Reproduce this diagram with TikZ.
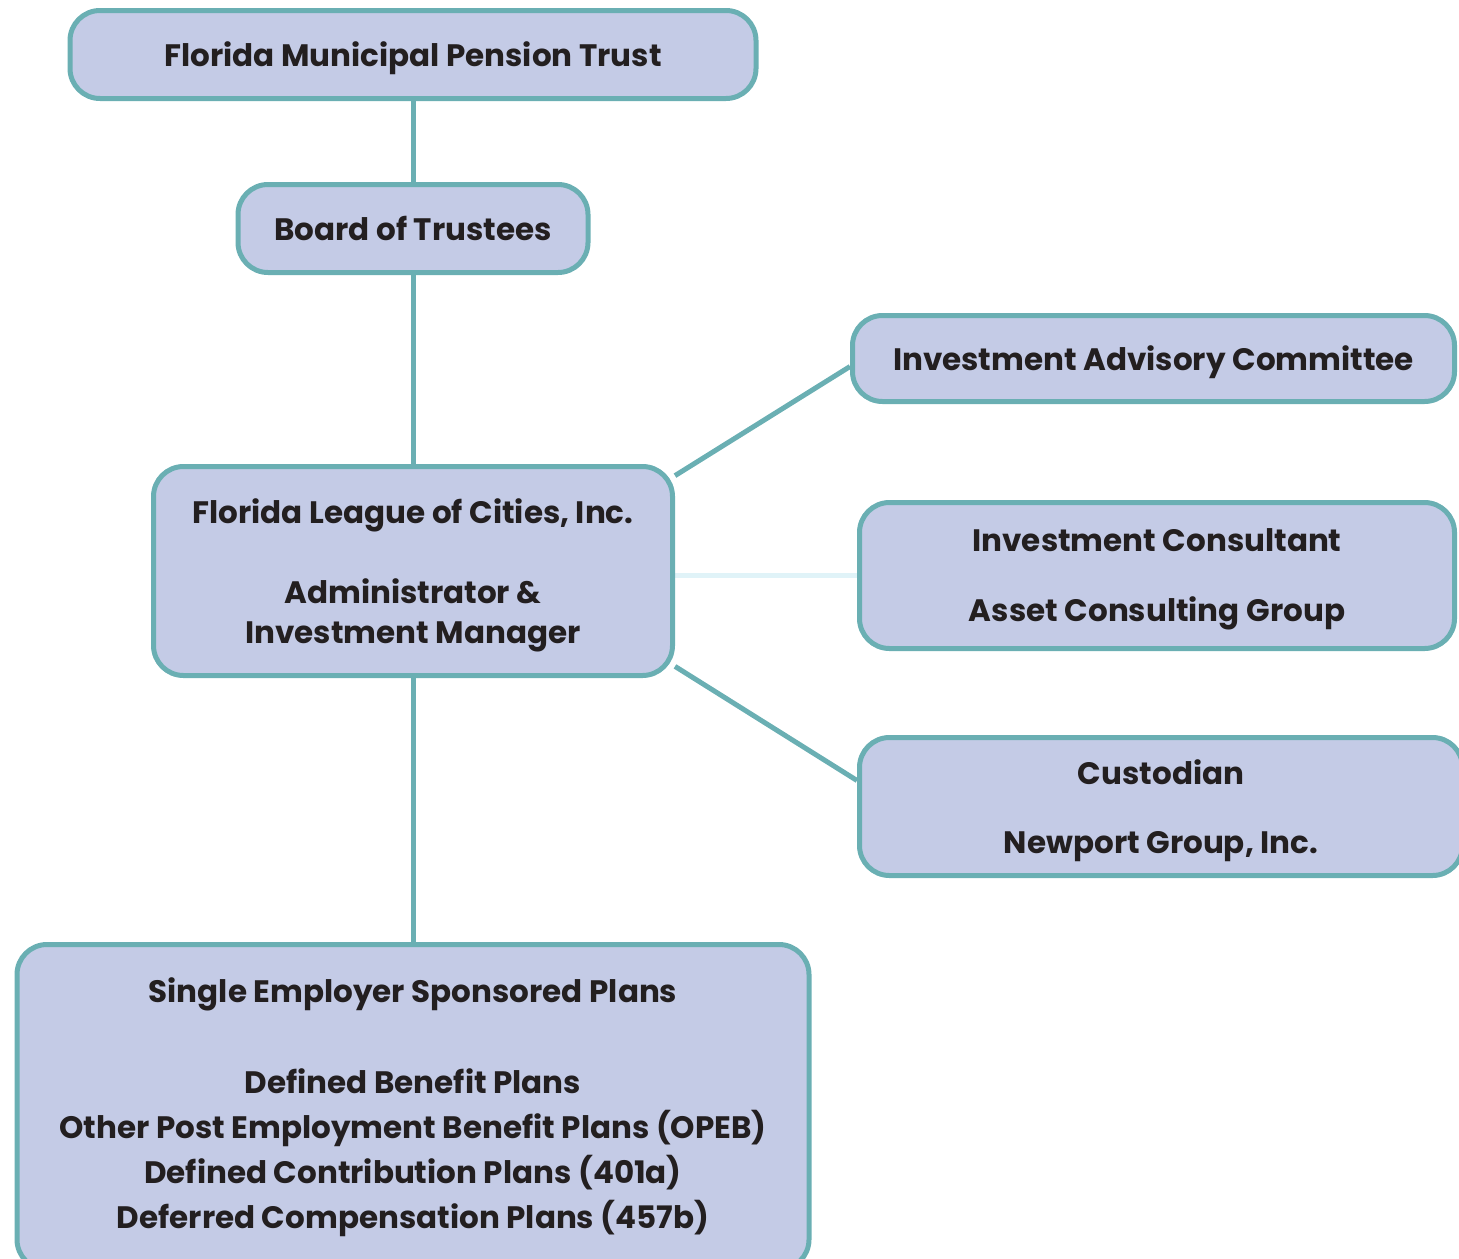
\documentclass[tikz,border=0pt]{standalone}
\usepackage{fontspec}
\setmainfont{Poppins}
\usetikzlibrary{backgrounds}
\definecolor{boxfill}{HTML}{C4CBE6}
\definecolor{boxline}{HTML}{6AAFB3}
\definecolor{faintline}{HTML}{E0F3F8}
\definecolor{boxtext}{HTML}{231F20}
\tikzset{
  orgbox/.style={draw=boxline,fill=boxfill,line width=2.5pt,rounded corners=15pt,
    text=boxtext,align=center,inner sep=0pt,text depth=0pt,
    font=\bfseries\fontsize{15.5}{20}\selectfont},
  link/.style={draw=boxline,line width=2.5pt},
  faintlink/.style={draw=faintline,line width=2.5pt}
}

\begin{document}
\begin{tikzpicture}[x=0.5pt,y=-0.5pt]
\useasboundingbox (0,0) rectangle (1459,1258);
\clip (0,0) rectangle (1459,1258);
% left column
\node[orgbox,minimum width=343pt,minimum height=44pt] (fmpt) at (413,54.5)
  {Florida Municipal Pension Trust};
\node[orgbox,minimum width=175pt,minimum height=44pt] (board) at (413,228.5)
  {Board of Trustees};
\node[orgbox,minimum width=259.5pt,minimum height=104.5pt] (flc) at (413,571)
  {Florida League of Cities, Inc.\\[20pt]Administrator \&\\Investment Manager};
\node[orgbox,minimum width=396pt,minimum height=162.5pt,text depth=4pt,
  font=\bfseries\fontsize{15.5}{22.5}\selectfont] (plans) at (413,1107)
  {Single Employer Sponsored Plans\\[23pt]Defined Benefit Plans\\
   Other Post Employment Benefit Plans (OPEB)\\
   Defined Contribution Plans (401a)\\
   Deferred Compensation Plans (457b)};
% right column
\node[orgbox,minimum width=301pt,minimum height=43pt] (iac) at (1153.5,358.5)
  {Investment Advisory Committee};
\node[orgbox,minimum width=297.5pt,minimum height=73pt] (ic) at (1157,575.5)
  {Investment Consultant\\[15pt]Asset Consulting Group};
\node[orgbox,minimum width=301.5pt,minimum height=69pt] (cust) at (1161,806.5)
  {Custodian\\[14.5pt]Newport Group, Inc.};
% connectors
\begin{scope}[on background layer]
\draw[link] (fmpt) -- (board);
\draw[link] (board) -- (flc);
\draw[link] (flc) -- (plans);
\draw[link] (flc.20) -- ([yshift=-4pt]iac.west);
\draw[faintlink] (flc.east |- ic.west) -- (ic.west);
\draw[link] (flc.-20) -- ([yshift=13pt]cust.west);
\end{scope}
\end{tikzpicture}
\end{document}
